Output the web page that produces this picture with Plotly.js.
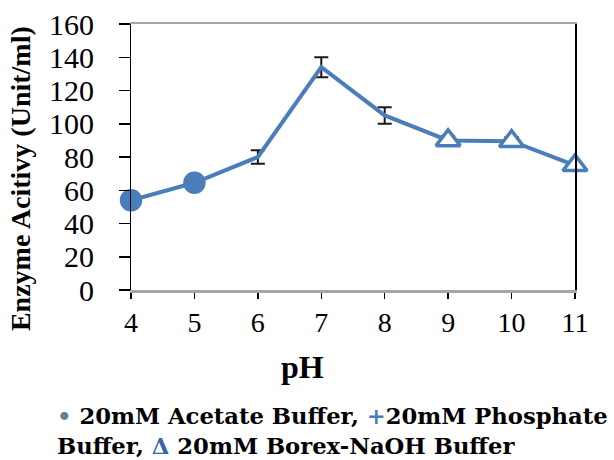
<!DOCTYPE html>
<html>
<head>
<meta charset="utf-8">
<script src="https://cdn.plot.ly/plotly-3.0.1.min.js"></script>
<style>html,body{margin:0;padding:0;background:#fff;}</style>
</head>
<body>
<div id="chart" style="width:614px;height:460px;"></div>
<script>
// Data
const pH = [4, 5, 6, 7, 8, 9, 10, 11];
const activity = [54, 64.5, 80, 134, 105, 90, 89.5, 75];
const errors = [2, 2, 4, 6, 5, 2.5, 2.5, 1.5];
const buffers = ['Acetate', 'Acetate', 'Phosphate', 'Phosphate', 'Phosphate', 'Borex', 'Borex', 'Borex'];
const yTicks = [0, 20, 40, 60, 80, 100, 120, 140, 160];
const xTicks = [4, 5, 6, 7, 8, 9, 10, 11];

const blue = '#4A7EBB';
const symbolFor = {Acetate: 'circle', Phosphate: 'cross', Borex: 'triangle-up'};
const sizeFor = {Acetate: 19, Phosphate: 0, Borex: 21};
const fillFor = {Acetate: blue, Phosphate: blue, Borex: '#ffffff'};

const trace = {
  x: pH,
  y: activity,
  type: 'scatter',
  mode: 'lines+markers',
  cliponaxis: false,
  line: {color: blue, width: 4},
  marker: {
    symbol: buffers.map(b => symbolFor[b]),
    size: buffers.map(b => sizeFor[b]),
    color: buffers.map(b => fillFor[b]),
    opacity: 1,
    line: {color: blue, width: 3.5}
  },
  error_y: {type: 'data', array: errors, visible: true, color: '#1a1a1a', thickness: 2, width: 7},
  hoverinfo: 'none',
  showlegend: false
};

// invisible companion trace so the label axis (yaxis2) is drawn
const labelAxisTrace = {
  x: pH,
  y: activity,
  yaxis: 'y2',
  type: 'scatter',
  mode: 'lines',
  line: {width: 0, color: 'rgba(0,0,0,0)'},
  opacity: 0,
  hoverinfo: 'none',
  showlegend: false
};

const serif = '"Liberation Serif", "Times New Roman", Tinos, serif';

const layout = {
  width: 614,
  height: 460,
  margin: {l: 131, r: 39, t: 24, b: 170},
  paper_bgcolor: '#fff',
  plot_bgcolor: '#fff',
  showlegend: false,
  xaxis: {
    range: [4, 11],
    tickvals: xTicks,
    ticktext: xTicks.map(String),
    showgrid: false,
    zeroline: false,
    showline: true,
    linecolor: '#a6a6a6',
    linewidth: 2.5,
    mirror: true,
    ticks: 'outside',
    ticklen: 6,
    tickwidth: 1.5,
    tickcolor: '#000',
    tickfont: {family: serif, size: 28, color: '#000'}
  },
  yaxis: {
    range: [0, 160],
    tickvals: yTicks,
    showticklabels: false,
    showgrid: false,
    zeroline: false,
    showline: true,
    linecolor: '#000',
    linewidth: 1.5,
    mirror: true,
    ticks: 'outside',
    ticklen: 11,
    tickwidth: 1.5,
    tickcolor: '#000'
  },
  yaxis2: {
    overlaying: 'y',
    anchor: 'x',
    side: 'left',
    range: [0, 160],
    tickvals: yTicks,
    ticktext: yTicks.map(String),
    showgrid: false,
    zeroline: false,
    showline: false,
    ticks: 'outside',
    ticklen: 30,
    tickcolor: 'rgba(0,0,0,0)',
    tickfont: {family: serif, size: 30, color: '#000'}
  },
  annotations: [
    {
      text: '<b>Enzyme Acitivy (Unit/ml)</b>',
      xref: 'paper', yref: 'paper',
      x: -0.25, y: 0.417,
      xanchor: 'center', yanchor: 'middle',
      textangle: -90,
      showarrow: false,
      font: {family: serif, size: 28, color: '#000'}
    },
    {
      text: '<b>pH</b>',
      xref: 'paper', yref: 'paper',
      x: 0.387, y: -0.29,
      xanchor: 'center', yanchor: 'middle',
      showarrow: false,
      font: {family: serif, size: 32, color: '#000'}
    },
    {
      text: '<span style="color:#5f7e9e">•</span> 20mM Acetate Buffer, <span style="color:#4A7EBB">+</span>20mM Phosphate<br>Buffer, <span style="color:#3a64a8">Δ</span> 20mM Borex-NaOH Buffer',
      xref: 'paper', yref: 'paper',
      x: -0.171, y: -0.53,
      xanchor: 'left', yanchor: 'middle',
      align: 'left',
      showarrow: false,
      font: {family: 'DejaVu Serif, serif', size: 22.7, color: '#000', weight: 'bold'}
    }
  ]
};

Plotly.newPlot('chart', [labelAxisTrace, trace], layout, {displayModeBar: false, staticPlot: true});
</script>
</body>
</html>
